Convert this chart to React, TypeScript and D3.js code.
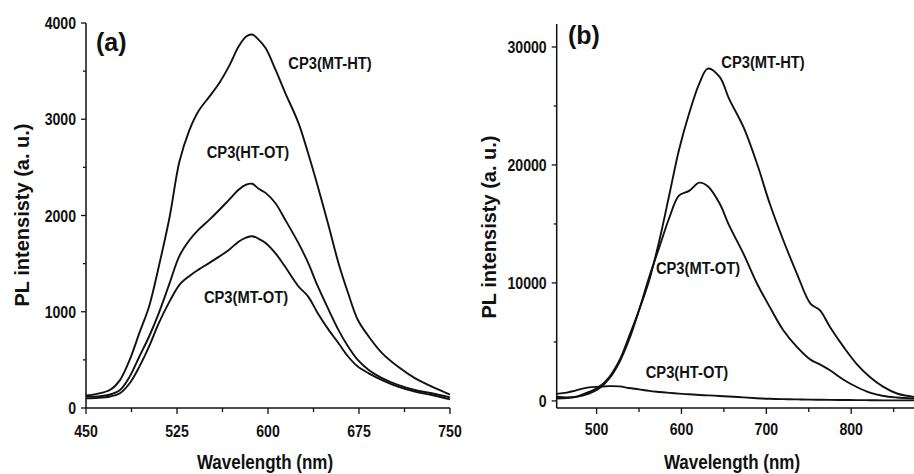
import React from "react";
import * as d3 from "d3";

// ---------- Data ----------
const wlA = [450,460,470,478,486,494,502,510,519,527,535,543,552,560,568,576,582,587,592,598,606,614,625,633,641,650,658,666,674,683,694,707,721,735,750];
const mthtA = [130,150,190,290,500,780,1055,1470,1990,2560,2880,3090,3240,3380,3555,3760,3860,3880,3830,3740,3520,3280,2965,2650,2305,1890,1510,1195,917,743,570,430,310,222,140];
const htotA = [118,120,140,187,326,535,743,986,1300,1580,1740,1855,1960,2060,2165,2270,2320,2330,2280,2235,2130,1960,1715,1510,1265,1020,812,640,500,396,310,240,187,153,110];
const mtotA = [100,105,120,153,257,430,640,882,1110,1280,1370,1440,1510,1575,1645,1730,1770,1785,1760,1715,1610,1470,1265,1160,985,812,675,535,430,360,290,222,170,135,90];

const wlB = [453,465,476,491,503,515,527,538,550,562,574,586,597,609,621,631,645,656,673,689,704,720,736,752,763,775,791,806,822,838,854,874];
const mthtB = [200,250,340,760,1190,2030,3450,5420,7690,10230,13620,17580,21250,24360,26900,28170,27460,25630,23220,20120,16730,13620,10800,8250,7690,6270,4580,3170,2030,1190,630,340];
const mtotB = [350,300,350,630,1050,1900,3300,5140,7690,10510,13050,15590,17400,17800,18500,18200,16730,14900,12490,9950,7970,5990,4580,3500,3100,2600,1800,1200,700,420,290,200];
const htotB = [600,700,900,1150,1200,1250,1230,1100,980,850,760,680,620,560,500,470,420,370,300,230,180,150,130,110,100,90,80,70,60,50,50,50];

const ticksXA = [450,525,600,675,750];
const minorXA = [487.5,562.5,637.5,712.5];
const ticksYA = [0,1000,2000,3000,4000];
const minorYA = [500,1500,2500,3500];
const ticksXB = [500,600,700,800];
const minorXB = [550,650,750,850];
const ticksYB = [0,10000,20000,30000];
const minorYB = [5000,15000,25000];

const FONT = "'Liberation Sans',Arial,sans-serif";
const INK = "#111";

function NText(props: { x: number; y: number; size: number; sx: number; anchor?: string; children: React.ReactNode }) {
  return (
    <text
      transform={`translate(${props.x},${props.y}) scale(${props.sx},1)`}
      textAnchor={props.anchor || "middle"}
      fontFamily={FONT}
      fontWeight="bold"
      fontSize={props.size}
      fill={INK}
    >
      {props.children}
    </text>
  );
}

type Series = { name: string; values: number[]; lx: number; ly: number };

function Panel(props: {
  wl: number[];
  series: Series[];
  xDomain: [number, number];
  xRange: [number, number];
  yDomain: [number, number];
  yRange: [number, number];
  ticksX: number[];
  minorX: number[];
  ticksY: number[];
  minorY: number[];
  tag: string;
  tagX: number;
  tagY: number;
  yTitleX: number;
  yTitleY: number;
  xTitleX: number;
  xLabelDy: number;
}) {
  const x = d3.scaleLinear().domain(props.xDomain).range(props.xRange);
  const y = d3.scaleLinear().domain(props.yDomain).range(props.yRange);
  const x0 = props.xRange[0];
  const yb = props.yRange[0];
  const yt = props.yRange[1];
  const line = d3
    .line<number>()
    .x((_, i) => x(props.wl[i]))
    .y((v) => y(v))
    .curve(d3.curveCatmullRom.alpha(0.5));
  return (
    <g>
      {props.series.map((s) => (
        <path key={s.name} d={line(s.values) || ""} fill="none" stroke={INK} strokeWidth={1.9} strokeLinejoin="round" />
      ))}
      <line x1={x0} x2={x0} y1={yb} y2={yt} stroke={INK} strokeWidth={1.5} />
      <line x1={x0} x2={props.xRange[1]} y1={yb} y2={yb} stroke={INK} strokeWidth={1.5} />
      {props.ticksX.map((t) => (
        <g key={"tx" + t}>
          <line x1={x(t)} x2={x(t)} y1={yb} y2={yb + 6} stroke={INK} strokeWidth={1.3} />
          <NText x={x(t)} y={yb + props.xLabelDy} size={17} sx={0.83}>{t}</NText>
        </g>
      ))}
      {props.minorX.map((t) => (
        <line key={"mx" + t} x1={x(t)} x2={x(t)} y1={yb} y2={yb + 4} stroke={INK} strokeWidth={1.3} />
      ))}
      {props.ticksY.map((t) => (
        <g key={"ty" + t}>
          <line x1={x0 - 5} x2={x0} y1={y(t)} y2={y(t)} stroke={INK} strokeWidth={1.3} />
          <NText x={x0 - 10} y={y(t) + 6} size={17} sx={0.83} anchor="end">{t}</NText>
        </g>
      ))}
      {props.minorY.map((t) => (
        <line key={"my" + t} x1={x0 - 3} x2={x0} y1={y(t)} y2={y(t)} stroke={INK} strokeWidth={1.3} />
      ))}
      {props.series.map((s) => (
        <NText key={"l" + s.name} x={s.lx} y={s.ly} size={16} sx={0.92}>{s.name}</NText>
      ))}
      <text x={props.tagX} y={props.tagY} fontFamily={FONT} fontWeight="bold" fontSize={25} fill={INK}>{props.tag}</text>
      <NText x={props.xTitleX} y={469} size={20} sx={0.85}>Wavelength (nm)</NText>
      <text transform={`translate(${props.yTitleX},${props.yTitleY}) rotate(-90)`} textAnchor="middle" fontFamily={FONT} fontWeight="bold" fontSize={20} fill={INK}>PL intensisty (a. u.)</text>
    </g>
  );
}

export default function App() {
  return (
    <svg width={914} height={474} style={{ position: "absolute", left: 0, top: 0, background: "#fff" }}>
      <rect width={914} height={474} fill="#fff" />
      <Panel
        wl={wlA}
        series={[
          { name: "CP3(MT-HT)", values: mthtA, lx: 330, ly: 69 },
          { name: "CP3(HT-OT)", values: htotA, lx: 248, ly: 158 },
          { name: "CP3(MT-OT)", values: mtotA, lx: 246, ly: 303 },
        ]}
        xDomain={[450, 750]}
        xRange={[86, 450]}
        yDomain={[0, 4000]}
        yRange={[408, 23]}
        ticksX={ticksXA}
        minorX={minorXA}
        ticksY={ticksYA}
        minorY={minorYA}
        tag="(a)"
        tagX={96}
        tagY={51}
        yTitleX={29}
        yTitleY={215}
        xTitleX={265}
        xLabelDy={29}
      />
      <Panel
        wl={wlB}
        series={[
          { name: "CP3(MT-HT)", values: mthtB, lx: 763, ly: 68 },
          { name: "CP3(MT-OT)", values: mtotB, lx: 698, ly: 274 },
          { name: "CP3(HT-OT)", values: htotB, lx: 687, ly: 378 },
        ]}
        xDomain={[453, 874]}
        xRange={[556.7, 914]}
        yDomain={[-600, 31950]}
        yRange={[408, 24]}
        ticksX={ticksXB}
        minorX={minorXB}
        ticksY={ticksYB}
        minorY={minorYB}
        tag="(b)"
        tagX={568}
        tagY={44}
        yTitleX={496}
        yTitleY={227}
        xTitleX={732}
        xLabelDy={27}
      />
    </svg>
  );
}
